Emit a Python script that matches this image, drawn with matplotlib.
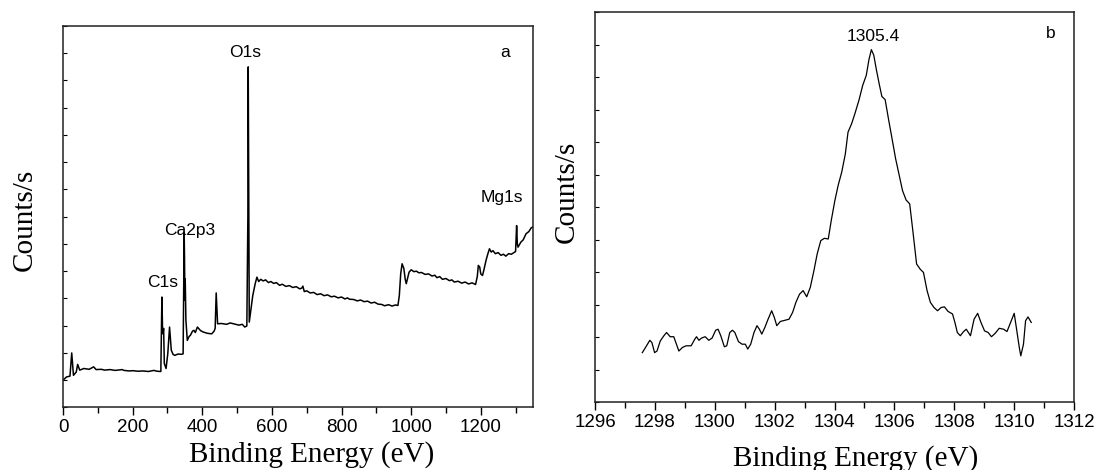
"""XPS survey spectrum and Mg1s high-resolution scan."""

import matplotlib

matplotlib.use("Agg")
import matplotlib.pyplot as plt
from matplotlib.ticker import MultipleLocator

# survey scan (a), intensity in arbitrary units
survey_energy = [
    0, 10, 20, 25, 30, 38, 42, 48, 60, 75, 88, 95, 110, 120, 135, 150, 170,
    175, 190, 200, 215, 230, 245, 261, 270, 281, 284, 286, 287, 289, 291, 296,
    301, 306, 311, 316, 321, 330, 341, 345, 348, 349, 350, 351, 353, 357, 362,
    366, 372, 376, 380, 386, 395, 402, 415, 427, 434, 437, 440, 444, 455, 470,
    480, 490, 505, 515, 522, 528, 531, 532, 533, 535, 540, 545, 552, 557, 562,
    568, 575, 582, 590, 597, 605, 613, 622, 630, 640, 650, 660, 670, 680, 686,
    689, 693, 700, 710, 720, 730, 740, 750, 760, 770, 780, 790, 800, 810, 817,
    823, 835, 845, 855, 865, 875, 885, 895, 905, 915, 924, 935, 945, 955, 962,
    966, 970, 974, 979, 983, 986, 990, 994, 1000, 1008, 1015, 1022, 1030, 1040,
    1050, 1060, 1068, 1074, 1082, 1090, 1100, 1110, 1117, 1124, 1135, 1145,
    1155, 1165, 1175, 1185, 1190, 1193, 1197, 1200, 1205, 1210, 1215, 1220,
    1225, 1230, 1235, 1242, 1250, 1258, 1265, 1272, 1280, 1288, 1295, 1300,
    1303, 1305, 1307, 1315, 1322, 1330, 1338, 1345, 1350,
]
survey_counts = [
    1.00, 1.12, 1.15, 2.00, 1.18, 1.30, 1.58, 1.37, 1.43, 1.40, 1.49, 1.39,
    1.40, 1.37, 1.39, 1.36, 1.39, 1.36, 1.34, 1.35, 1.33, 1.34, 1.32, 1.36,
    1.33, 1.32, 4.05, 2.80, 2.70, 2.90, 1.61, 1.43, 1.98, 2.95, 2.10, 1.95,
    1.91, 1.96, 1.95, 1.97, 6.43, 5.50, 3.93, 4.72, 3.20, 2.46, 2.60, 2.65,
    2.80, 2.83, 2.75, 2.95, 2.82, 2.77, 2.72, 2.70, 2.80, 2.90, 4.20, 3.07,
    3.08, 3.05, 3.10, 3.07, 3.02, 3.05, 2.95, 2.99, 7.00, 12.49, 9.00, 3.13,
    3.60, 4.10, 4.54, 4.78, 4.62, 4.70, 4.64, 4.68, 4.58, 4.62, 4.55, 4.58,
    4.48, 4.52, 4.44, 4.47, 4.40, 4.43, 4.35, 4.38, 4.45, 4.25, 4.28, 4.20,
    4.22, 4.14, 4.17, 4.10, 4.13, 4.06, 4.08, 4.02, 4.05, 3.98, 4.02, 3.97,
    3.96, 3.91, 3.94, 3.88, 3.90, 3.83, 3.86, 3.79, 3.78, 3.73, 3.77, 3.72,
    3.76, 3.74, 4.10, 4.90, 5.27, 5.10, 4.70, 4.54, 4.75, 4.96, 5.05, 4.98,
    5.00, 4.94, 4.95, 4.88, 4.90, 4.82, 4.85, 4.76, 4.80, 4.70, 4.73, 4.65,
    4.68, 4.60, 4.63, 4.56, 4.60, 4.53, 4.57, 4.51, 4.80, 5.21, 5.15, 4.90,
    4.84, 5.10, 5.39, 5.62, 5.82, 5.70, 5.75, 5.64, 5.68, 5.58, 5.62, 5.55,
    5.64, 5.62, 5.68, 5.72, 6.67, 6.00, 5.88, 6.06, 6.15, 6.37, 6.45, 6.59,
    6.62,
]
survey_peaks = ["C1s", "Ca2p3", "O1s", "Mg1s"]
survey_peak_x = [286, 363, 522, 1262]
survey_peak_y = [4.6, 6.5, 13.0, 7.7]

# Mg1s region (b)
mg_energy = [
    1297.58, 1297.72, 1297.83, 1297.90, 1297.99, 1298.07, 1298.18, 1298.30,
    1298.39, 1298.51, 1298.63, 1298.80, 1298.92, 1299.04, 1299.21, 1299.33,
    1299.39, 1299.47, 1299.56, 1299.68, 1299.80, 1299.91, 1300.03, 1300.11,
    1300.20, 1300.32, 1300.40, 1300.50, 1300.59, 1300.67, 1300.79, 1300.91,
    1301.02, 1301.10, 1301.20, 1301.31, 1301.41, 1301.49, 1301.57, 1301.67,
    1301.78, 1301.90, 1301.99, 1302.07, 1302.19, 1302.36, 1302.48, 1302.60,
    1302.71, 1302.83, 1302.95, 1303.07, 1303.19, 1303.31, 1303.42, 1303.54,
    1303.66, 1303.79, 1303.89, 1304.01, 1304.12, 1304.24, 1304.36, 1304.45,
    1304.57, 1304.68, 1304.82, 1304.94, 1305.06, 1305.15, 1305.23, 1305.31,
    1305.40, 1305.49, 1305.58, 1305.69, 1305.81, 1305.92, 1306.04, 1306.16,
    1306.27, 1306.39, 1306.51, 1306.62, 1306.74, 1306.86, 1306.97, 1307.09,
    1307.20, 1307.32, 1307.44, 1307.56, 1307.67, 1307.79, 1307.94, 1308.02,
    1308.10, 1308.20, 1308.31, 1308.40, 1308.54, 1308.66, 1308.78, 1308.89,
    1309.01, 1309.13, 1309.24, 1309.36, 1309.50, 1309.65, 1309.76, 1309.88,
    1310.00, 1310.08, 1310.17, 1310.22, 1310.31, 1310.38, 1310.46, 1310.57,
]
mg_counts = [
    1.52, 1.73, 1.90, 1.83, 1.52, 1.57, 1.88, 2.04, 2.14, 2.01, 2.01, 1.57,
    1.68, 1.73, 1.73, 1.93, 2.01, 1.90, 1.97, 2.01, 1.90, 1.97, 2.21, 2.24,
    2.04, 1.70, 1.73, 2.14, 2.21, 2.14, 1.86, 1.78, 1.78, 1.63, 1.78, 2.14,
    2.35, 2.24, 2.09, 2.29, 2.55, 2.81, 2.60, 2.35, 2.48, 2.52, 2.55, 2.76,
    3.07, 3.32, 3.43, 3.24, 3.53, 4.04, 4.56, 4.97, 5.04, 5.02, 5.59, 6.20,
    6.67, 7.08, 7.64, 8.31, 8.57, 8.88, 9.31, 9.75, 10.06, 10.55, 10.85,
    10.68, 10.22, 9.80, 9.41, 9.31, 8.67, 8.11, 7.49, 6.98, 6.51, 6.22, 6.10,
    5.23, 4.25, 4.09, 3.99, 3.43, 3.07, 2.91, 2.81, 2.91, 2.93, 2.79, 2.71,
    2.45, 2.14, 2.04, 2.17, 2.24, 2.04, 2.55, 2.73, 2.45, 2.19, 2.14, 2.01,
    2.11, 2.27, 2.24, 2.17, 2.45, 2.73, 2.24, 1.68, 1.42, 1.78, 2.50, 2.62,
    2.45,
]
mg_peak_label = "1305.4"

SANS = "Liberation Sans"
SERIF = "Liberation Serif"

plt.rcParams["font.family"] = SANS

fig = plt.figure(figsize=(10.96, 4.70), dpi=100)
ax_a = fig.add_axes([0.0575, 0.133, 0.4288, 0.8123])
ax_b = fig.add_axes([0.5429, 0.1447, 0.4371, 0.8291])


def style_axes(ax, xmaj, xmin, ymax):
    for sp in ax.spines.values():
        sp.set_linewidth(1.1)
        sp.set_color("#222222")
    ax.xaxis.set_major_locator(MultipleLocator(xmaj))
    ax.xaxis.set_minor_locator(MultipleLocator(xmin))
    ax.yaxis.set_major_locator(MultipleLocator(1))
    ax.set_ylim(0, ymax)
    ax.tick_params(axis="x", which="major", direction="out", length=6,
                   width=1, labelsize=13.5, pad=2.5)
    ax.tick_params(axis="x", which="minor", direction="out", length=4, width=1)
    ax.tick_params(axis="y", which="major", direction="in", length=3,
                   width=0.8, labelleft=False)
    ax.tick_params(top=False, right=False)


# panel a
ax_a.plot(survey_energy, survey_counts, color="black", lw=1.1)
ax_a.set_xlim(0, 1350)
style_axes(ax_a, 200, 100, 14)
for name, x, y in zip(survey_peaks, survey_peak_x, survey_peak_y):
    ax_a.text(x, y, name, ha="center", va="center", fontsize=12.5)
ax_a.text(1270, 13.0, "a", ha="center", va="center", fontsize=12.5)
ax_a.text(0.528, -0.124, "Binding Energy (eV)", transform=ax_a.transAxes,
          ha="center", va="center", fontsize=21, family=SERIF)
ax_a.text(-0.081, 0.491, "Counts/s", transform=ax_a.transAxes, rotation=90,
          ha="center", va="center", fontsize=21, family=SERIF)

# panel b
ax_b.plot(mg_energy, mg_counts, color="black", lw=0.9)
ax_b.set_xlim(1296, 1312)
style_axes(ax_b, 2, 1, 12)
ax_b.text(1305.29, 11.25, mg_peak_label, ha="center", va="center",
          fontsize=12.5)
ax_b.text(1311.22, 11.35, "b", ha="center", va="center", fontsize=12.5)
ax_b.text(0.543, -0.144, "Binding Energy (eV)", transform=ax_b.transAxes,
          ha="center", va="center", fontsize=21, family=SERIF)
ax_b.text(-0.058, 0.539, "Counts/s", transform=ax_b.transAxes, rotation=90,
          ha="center", va="center", fontsize=21, family=SERIF)

fig.savefig("out.png", dpi=100)
plt.close(fig)
